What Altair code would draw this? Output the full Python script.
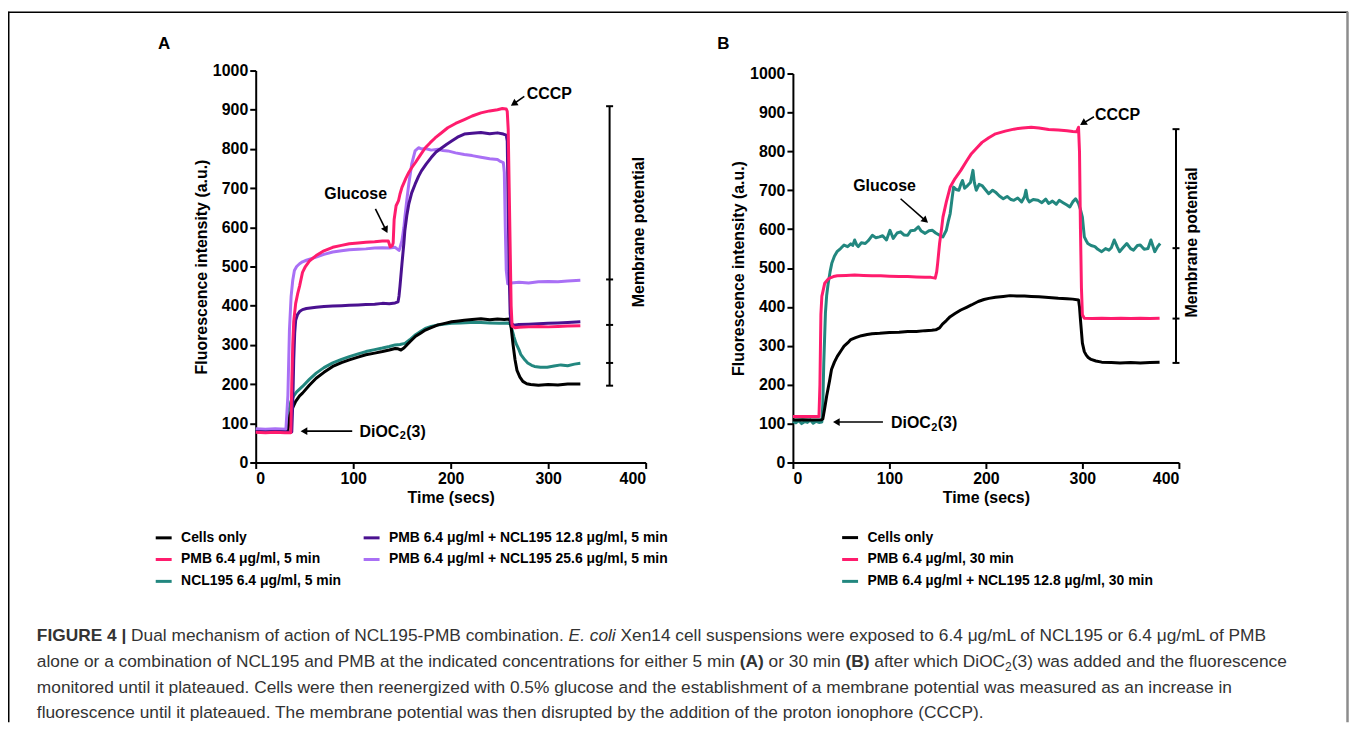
import altair as alt
import pandas as pd

FONT = "Liberation Sans"
W_TOTAL = 1348
H_TOTAL = 716

X_TICKS = [0, 100, 200, 300, 400]
Y_TICKS = [0, 100, 200, 300, 400, 500, 600, 700, 800, 900, 1000]

# ---------------- Panel A data (time s, fluorescence a.u.) ----------------
A_LABELS = ["Cells only", "PMB 6.4 μg/ml, 5 min", "NCL195 6.4 μg/ml, 5 min",
            "PMB 6.4 μg/ml + NCL195 12.8 μg/ml, 5 min", "PMB 6.4 μg/ml + NCL195 25.6 μg/ml, 5 min"]
A_COLORS = ["#000000", "#FF1C6D", "#22877F", "#4A1190", "#A970F5"]

A_CELLS = [(0,79),(10,78),(20,79),(31,78),(33,82),(35,120),(38,140),(41,156),(45,170),(48,177),(55,197),
           (62,215),(70,230),(79,245),(88,255),(96,262),(105,269),(113,275),(122,279),(130,283),(137,287),
           (143,291),(146,290),(149,287),(152,292),(155,300),(159,310),(164,322),(169,330),(174,338),(180,344),
           (187,351),(194,355),(201,359),(208,361),(214,363),(222,365),(231,367),(240,364),(248,366),(255,365),
           (260,366),(261,360),(262,345),(264,300),(266,262),(268,235),(271,218),(274,207),(278,201),(282,199),
           (290,197),(300,199),(310,198),(320,200),(333,200)]
A_TEAL = [(0,82),(10,81),(20,82),(32,81),(33,90),(34,130),(36,155),(39,170),(42,180),(48,194),(55,212),
          (62,228),(70,242),(79,254),(88,263),(96,270),(105,277),(113,283),(122,288),(130,292),(137,296),
          (143,300),(148,301),(153,304),(158,313),(164,326),(169,334),(174,342),(180,347),(187,351),(194,353),
          (201,355),(210,356),(220,357),(231,357),(240,356),(250,355),(258,356),(261,354),(263,338),(265,320),
          (267,304),(270,288),(272,275),(276,262),(279,254),(283,248),(286,245),(292,243),(299,243),(306,246),
          (313,249),(320,247),(327,251),(333,253)]
A_PINK = [(0,77),(10,76),(20,77),(30,76),(36,76),(37,200),(38,300),(39,360),(41,406),(43,430),(45,450),
          (48,485),(51,500),(55,514),(62,528),(70,540),(79,549),(88,554),(96,558),(105,560),(113,562),
          (122,563),(130,565),(136,565),(138,550),(140,553),(141,560),(142,620),(144,655),(146.5,668),
          (148,685),(150,702),(154,725),(157,740),(160,752),(164,766),(169,785),(174,803),(179,816),(184,828),
          (190,840),(197,854),(205,865),(214,875),(222,884),(231,892),(240,897),(248,900),(253,903),(257,902),
          (258,896),(259,850),(260,700),(261,550),(262,400),(263,348),(266,344),(270,345),(280,346),(290,347),
          (300,346),(310,347),(320,348),(333,349)]
A_DARK = [(0,79),(10,78),(20,79),(30,78),(37,78),(38,150),(39,260),(40,330),(41,363),(43,378),(45,385),
          (48,390),(52,393),(62,396),(70,398),(79,399),(88,400),(96,401),(105,402),(113,403),(122,404),
          (130,406),(137,405),(143,407),(146,410),(147,425),(148,450),(150,507),(152,560),(153,592),(155,630),
          (157,659),(160,688),(163.5,710),(167,730),(170,744),(175,762),(180,778),(185,792),(191,803),
          (196,812),(201,820),(207,830),(214,838),(222,840),(231,842),(240,839),(248,841),(254,838),(257,835),
          (258,820),(259,650),(260,480),(261,380),(262,355),(265,350),(270,352),(280,353),(290,354),(300,355),
          (310,356),(320,357),(333,359)]
A_LIGHT = [(0,86),(10,85),(20,86),(31,85),(33,170),(34.6,338),(36.3,423),(38,465),(39.7,490),(42,500),
           (45,507),(48,512),(52,516),(62,524),(70,531),(79,537),(88,540),(96,543),(105,544),(113,545),
           (122,547),(130,548),(137,547),(143,549),(145,545),(147,541),(148,548),(150,566),(152,600),(153,626),
           (155,670),(157,710),(160,761),(163.5,795),(167,803),(170,800),(174,801),(180,797),(187,799),
           (192,796),(197,795),(205,790),(214,786),(222,783),(231,779),(240,775),(248,773),(251,768),(254,765),
           (255,740),(256,600),(257,490),(258.5,456),(262,458),(270,460),(280,458),(290,461),(300,462),
           (310,461),(320,463),(333,465)]

# ---------------- Panel B data ----------------
B_LABELS = ["Cells only", "PMB 6.4 µg/ml, 30 min", "PMB 6.4 µg/ml + NCL195 12.8 µg/ml, 30 min"]
B_COLORS = ["#000000", "#FF1C6D", "#22877F"]

B_CELLS = [(0,109),(10,110),(20,109),(30,110),(31,112),(33,140),(35,171),(38,210),(40,239),(43,258),(46,273),
           (50,288),(53,299),(57,308),(60,316),(65,321),(71,326),(77,329),(82,331),(90,332),(100,334),
           (110,335),(119,337),(128,337),(137,339),(144,340),(148,341),(152,346),(155,356),(159,365),(163,375),
           (168,383),(174,392),(180,399),(185,405),(192,414),(198,419),(203,422),(210,425),(218,427),(225,429),
           (232,428),(240,428),(247,427),(255,426),(265,424),(275,422),(284,421),(290,420),(296,418),(297,400),
           (298,367),(300,307),(302,285),(304,276),(306,270),(309,265),(314,261),(320,258),(330,257),(339,256),
           (350,257),(360,256),(370,257),(380,258)]
B_PINK = [(0,118),(10,118),(20,118),(27,118),(28,200),(29,380),(30,427),(33,461),(36,470),(38,474),(42,478),
          (46,480),(55,481),(64,482),(73,481),(82,480),(91,480),(100,479),(110,478),(119,478),(128,477),
          (137,476),(143,476),(147.5,474),(149,490),(150,512),(152,563),(154,600),(155.5,631),(159,670),
          (163,708),(168,730),(174,751),(180,775),(185,794),(191,810),(196,823),(203,835),(210,845),(220,852),
          (229,857),(238,860),(247,862),(255,860),(265,856),(275,855),(284,853),(290,851),(294,850),(296,862),
          (297,800),(298,600),(299,450),(300,380),(302,371),(310,370),(320,371),(330,370),(340,371),(350,370),
          (360,371),(370,370),(380,371)]
B_TEAL = [(0,106),(3,102),(6,108),(9,100),(12,105),(15,103),(18,109),(21,101),(24,106),(27,103),(30,104),
          (31,150),(32,256),(33.7,384),(35,430),(36.6,461),(38.5,490),(40.3,512),(43,530),(45.7,542),
          (49.4,550),(53,559),(56.7,555),(60,562),(62,558),(64,572),(66,560),(67.7,555),(71,565),(75,563),
          (78,570),(82.3,584),(86,578),(89.7,580),(93,583),(97,572),(100.6,597),(104,576),(108,590),
          (111.6,593),(115,585),(119,584),(122,596),(126,597),(130,606),(133,595),(137,589),(141,596),
          (144.6,597),(148,590),(152,584),(155.5,580),(159,597),(161,620),(163,640),(165,680),(166.5,708),
          (169,702),(172,700),(174,715),(175.7,725),(178,705),(181,712),(184,720),(186.6,751),(188,720),
          (190,700),(193,715),(196,712),(200,700),(203,691),(207,700),(210,695),(214,685),(218,678),(222,684),
          (226,676),(229,674),(233,680),(237,670),(240,683),(241.5,700),(243,678),(245,670),(249,676),
          (254,674),(258,668),(262,677),(265,666),(269,672),(273,664),(276,674),(280,668),(284,662),(287,657),
          (290,670),(293,678),(296,666),(298,650),(300,631),(302,580),(304,570),(305.6,563),(309,558),
          (313,555),(316,548),(320,542),(324,550),(327.5,546),(330,552),(333,572),(336,555),(338.5,542),
          (342,552),(346,563),(350,550),(353,546),(357,558),(360,559),(364,548),(368,550),(371,572),(375,542),
          (378,555),(380.6,563)]

# ---------------- annotations (data coordinates) ----------------
A_NOTES = [("CCCP", 278, 940, "left"), ("Glucose", 102.5, 685, "center")]
A_DIOC = (106.5, 79)
A_ARROWS = [(275.5, 934, 264.6, 915), (122.8, 647, 133.6, 593), (99, 80, 49.5, 80)]
A_HEADS = [(264.6, 915, 237), (133.6, 593, 153), (49.5, 80, 270)]
A_BRACKET_X = 363
A_BRACKET = [909, 467, 351, 254, 196]
A_MP = (393.6, 588)

B_NOTES = [("CCCP", 313, 894, "left"), ("Glucose", 95, 712, "center")]
B_DIOC = (101.7, 102.4)
B_ARROWS = [(312, 889, 300.6, 872), (111.6, 678, 137.4, 622), (93.3, 104, 45, 104)]
B_HEADS = [(300.6, 872, 238), (137.4, 622, 131), (45, 104, 270)]
B_BRACKET_X = 397
B_BRACKET = [857, 551, 370, 256]
B_MP = (414, 566)

CAPTION = [
    [("FIGURE 4 | ", "b"), ("Dual mechanism of action of NCL195-PMB combination. ", "r"), ("E. coli", "i"),
     (" Xen14 cell suspensions were exposed to 6.4 μg/mL of NCL195 or 6.4 μg/mL of PMB", "r")],
    [("alone or a combination of NCL195 and PMB at the indicated concentrations for either 5 min ", "r"),
     ("(A)", "b"), (" or 30 min ", "r"), ("(B)", "b"), (" after which DiOC", "r"), ("2", "s"),
     ("(3) was added and the fluorescence", "r")],
    [("monitored until it plateaued. Cells were then reenergized with 0.5% glucose and the establishment of a membrane potential was measured as an increase in", "r")],
    [("fluorescence until it plateaued. The membrane potential was then disrupted by the addition of the proton ionophore (CCCP).", "r")],
]
CAP_Y = [629, 656, 682, 707]
CAP_X0, CAP_X1 = 29, 1266

# ---------------- text metrics (Arial / Liberation Sans) ----------------
UP = "ABCDEFGHIJKLMNOPQRSTUVWXYZ"
LO = "abcdefghijklmnopqrstuvwxyz"
W_REG = dict(zip(UP, [667,667,722,722,667,611,778,722,278,500,667,556,833,722,778,667,778,722,667,611,722,667,944,667,667,611]))
W_REG.update(zip(LO, [556,556,500,556,556,278,556,556,222,222,500,222,833,556,556,556,556,333,500,278,556,500,722,500,500,500]))
W_REG.update({" ": 278, "(": 333, ")": 333, ".": 278, ",": 278, "-": 333, "/": 278, "%": 889, "|": 260, "μ": 576})
W_REG.update({d: 556 for d in "0123456789"})
W_BOLD = dict(zip(UP, [722,722,722,722,667,611,778,722,278,556,722,611,833,722,778,667,778,722,667,611,722,667,944,667,667,611]))
W_BOLD.update(zip(LO, [556,611,556,611,556,333,611,611,278,278,556,278,889,611,611,611,611,389,556,333,611,556,778,556,556,500]))
W_BOLD.update({" ": 278, "(": 333, ")": 333, ".": 278, ",": 278, "-": 333, "/": 278, "%": 889, "|": 280, "μ": 611})
W_BOLD.update({d: 556 for d in "0123456789"})
SUB_RATIO = 0.7


def seg_em(text, style):
    tbl = W_BOLD if style == "b" else W_REG
    em = sum(tbl.get(ch, 556) for ch in text) / 1000.0
    return em * SUB_RATIO if style == "s" else em


CAP_FS = (CAP_X1 - CAP_X0) / sum(seg_em(t, s) for t, s in CAPTION[0])

axis_common = dict(labelFont=FONT, labelFontSize=16, labelFontWeight="bold", labelColor="black",
                   titleFont=FONT, titleFontSize=16, titleFontWeight="bold", titleColor="black",
                   domainColor="black", domainWidth=2, tickColor="black", tickWidth=2, tickSize=6,
                   labelPadding=2, titlePadding=3, grid=False, format="d")


def sdf(pairs, label):
    return pd.DataFrame({"t": [p[0] for p in pairs], "v": [p[1] for p in pairs], "series": [label] * len(pairs)})


def build_panel(xr, yr, series, dom, rng, legend, notes, dioc, arrows, heads, bx, bvals, mp):
    xs = alt.Scale(domain=[0, 400], range=xr)
    ys = alt.Scale(domain=[0, 1000], range=yr)
    X = alt.X("t:Q", scale=xs, axis=alt.Axis(orient="bottom", offset=yr[0] - H_TOTAL, values=X_TICKS,
                                             title="Time (secs)", **axis_common))
    Y = alt.Y("v:Q", scale=ys, axis=alt.Axis(orient="left", offset=-xr[0], values=Y_TICKS,
                                             title="Fluorescence intensity (a.u.)", **axis_common))
    C = alt.Color("series:N", scale=alt.Scale(domain=dom, range=rng), legend=legend)
    layers = []
    for label, pairs in series:
        layers.append(alt.Chart(sdf(pairs, label)).mark_line(strokeWidth=3, strokeJoin="round").encode(
            x=X, y=Y, color=C))
    # bracket
    bdf = pd.DataFrame({"t": [bx], "v": [min(bvals)], "v2": [max(bvals)]})
    layers.append(alt.Chart(bdf).mark_rule(color="black", strokeWidth=2).encode(x=X, y=Y, y2="v2:Q"))
    tdf = pd.DataFrame({"t": [bx - 3.6] * len(bvals), "t2": [bx + 3.6] * len(bvals), "v": bvals})
    layers.append(alt.Chart(tdf).mark_rule(color="black", strokeWidth=2).encode(x=X, x2="t2:Q", y=Y))
    mdf = pd.DataFrame({"t": [mp[0]], "v": [mp[1]], "label": ["Membrane potential"]})
    layers.append(alt.Chart(mdf).mark_text(angle=270, font=FONT, fontSize=16, fontWeight="bold",
                                           color="black", baseline="middle", align="center").encode(
        x=X, y=Y, text="label:N"))
    # arrows
    adf = pd.DataFrame({"t": [a[0] for a in arrows], "v": [a[1] for a in arrows],
                        "t2": [a[2] for a in arrows], "v2": [a[3] for a in arrows]})
    layers.append(alt.Chart(adf).mark_rule(color="black", strokeWidth=1.6).encode(
        x=X, y=Y, x2="t2:Q", y2="v2:Q"))
    hdf = pd.DataFrame({"t": [h[0] for h in heads], "v": [h[1] for h in heads], "a": [h[2] for h in heads]})
    layers.append(alt.Chart(hdf).mark_point(shape="triangle-up", filled=True, color="black", size=60,
                                            opacity=1).encode(
        x=X, y=Y, angle=alt.Angle("a:Q", scale=None)))
    # notes
    for text, tx, ty, al in notes:
        ndf = pd.DataFrame({"t": [tx], "v": [ty], "label": [text]})
        layers.append(alt.Chart(ndf).mark_text(font=FONT, fontSize=16, fontWeight="bold", color="black",
                                               align=al, baseline="middle").encode(x=X, y=Y, text="label:N"))
    ddf = pd.DataFrame({"t": [dioc[0]], "v": [dioc[1]], "a": ["DiOC"], "b": ["2"], "c": ["(3)"]})
    layers.append(alt.Chart(ddf).mark_text(font=FONT, fontSize=16, fontWeight="bold", color="black",
                                           align="left", baseline="middle").encode(x=X, y=Y, text="a:N"))
    layers.append(alt.Chart(ddf).mark_text(font=FONT, fontSize=11, fontWeight="bold", color="black",
                                           align="left", baseline="middle", dx=40.5, dy=5).encode(
        x=X, y=Y, text="b:N"))
    layers.append(alt.Chart(ddf).mark_text(font=FONT, fontSize=16, fontWeight="bold", color="black",
                                           align="left", baseline="middle", dx=47).encode(
        x=X, y=Y, text="c:N"))
    return alt.layer(*layers)


legend_common = dict(orient="none", title=None, padding=0, labelFont=FONT, labelFontSize=14,
                     labelFontWeight="bold", labelColor="black", labelLimit=600, labelOffset=8,
                     symbolType="stroke", symbolSize=256, symbolStrokeWidth=3, rowPadding=5)

legA = alt.Legend(legendX=147, legendY=521, columns=2, columnPadding=15, **legend_common)
legB = alt.Legend(legendX=837, legendY=521, **legend_common)

panelA = build_panel([249, 641], [455, 61],
                     [(A_LABELS[2], A_TEAL), (A_LABELS[0], A_CELLS), (A_LABELS[4], A_LIGHT),
                      (A_LABELS[3], A_DARK), (A_LABELS[1], A_PINK)],
                     A_LABELS, A_COLORS, legA, A_NOTES, A_DIOC, A_ARROWS, A_HEADS, A_BRACKET_X, A_BRACKET, A_MP)
panelB = build_panel([789, 1177], [455, 64],
                     [(B_LABELS[2], B_TEAL), (B_LABELS[0], B_CELLS), (B_LABELS[1], B_PINK)],
                     B_LABELS, B_COLORS, legB, B_NOTES, B_DIOC, B_ARROWS, B_HEADS, B_BRACKET_X, B_BRACKET, B_MP)

# ---------------- decoration: frame, panel letters, caption ----------------
PX = alt.X("px:Q", scale=None, axis=None)
PY = alt.Y("py:Q", scale=None, axis=None)

frame_df = pd.DataFrame({"px": [0.75, 0, 1346.5], "py": [2, 2.5, 2], "px2": [0.75, 1347, 1346.5],
                         "py2": [H_TOTAL, 2.5, H_TOTAL], "c": ["#000000", "#000000", "#8c8c8c"],
                         "w": [1.5, 1.5, 2.5]})
frame = alt.Chart(frame_df).mark_rule().encode(x=PX, y=PY, x2="px2:Q", y2="py2:Q",
                                               color=alt.Color("c:N", scale=None),
                                               strokeWidth=alt.StrokeWidth("w:Q", scale=None))

letters_df = pd.DataFrame({"px": [157, 719], "py": [34, 34], "text": ["A", "B"]})
letters = alt.Chart(letters_df).mark_text(font=FONT, fontSize=17, fontWeight="bold", color="black",
                                          align="center", baseline="middle").encode(x=PX, y=PY, text="text:N")

rows = []
for line, y in zip(CAPTION, CAP_Y):
    x = CAP_X0
    for text, style in line:
        lead = len(text) - len(text.lstrip(" "))
        rows.append({"px": x + lead * 0.278 * CAP_FS, "py": y + (5 if style == "s" else 0),
                     "text": text.strip(), "style": style})
        x += seg_em(text, style) * CAP_FS
cap_df = pd.DataFrame(rows)

cap_layers = []
for style, kw in [("r", dict(fontSize=CAP_FS)), ("b", dict(fontSize=CAP_FS, fontWeight="bold")),
                  ("i", dict(fontSize=CAP_FS, fontStyle="italic")), ("s", dict(fontSize=CAP_FS * SUB_RATIO))]:
    cap_layers.append(alt.Chart(cap_df[cap_df["style"] == style]).mark_text(
        font=FONT, color="#333333", align="left", baseline="middle", **kw).encode(x=PX, y=PY, text="text:N"))

decor = alt.layer(frame, letters, *cap_layers)

chart = alt.layer(panelA, panelB, decor).resolve_scale(
    x="independent", y="independent", color="independent"
).properties(
    width=W_TOTAL, height=H_TOTAL, padding=0, autosize=alt.AutoSizeParams(type="none")
).configure(font=FONT, background="white").configure_view(stroke=None)

chart.save("out.html", embed_options={"renderer": "svg", "actions": False})
